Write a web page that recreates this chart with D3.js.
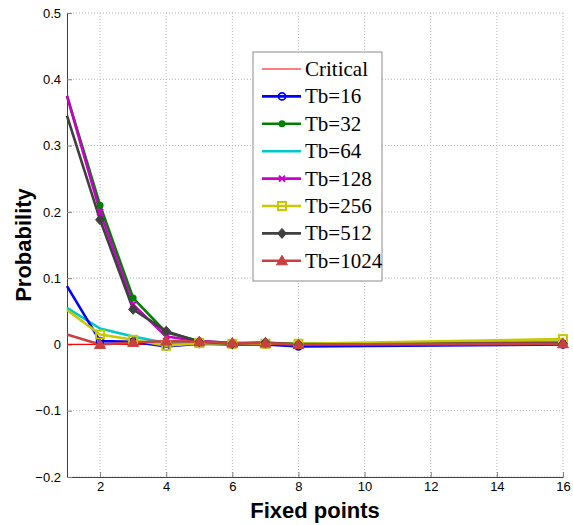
<!DOCTYPE html>
<html>
<head>
<meta charset="utf-8">
<script src="https://cdn.jsdelivr.net/npm/d3@7"></script>
<style>
  body { margin: 0; background: #fff; }
  svg { display: block; }
</style>
</head>
<body>
<svg id="chart"></svg>
<script>
(function () {

    var width = 573;
    var height = 525;
    var plotLeft = 67;
    var plotRight = 563;
    var plotTop = 13;
    var plotBottom = 477;

    // fixed points that were measured
    var fixedPoints = [1, 2, 3, 4, 5, 6, 7, 8, 16];
    var xTicks = [2, 4, 6, 8, 10, 12, 14, 16];
    var yTicks = [-0.2, -0.1, 0, 0.1, 0.2, 0.3, 0.4, 0.5];

    var seriesNames = ["Critical", "Tb=16", "Tb=32", "Tb=64", "Tb=128", "Tb=256", "Tb=512", "Tb=1024"];

    var critical = [0, 0, 0, 0, 0, 0, 0, 0, 0];
    var tb16 = [0.088, 0.005, 0.004, -0.003, 0.001, 0.000, 0.000, -0.003, 0.000];
    var tb32 = [0.375, 0.210, 0.070, 0.018, 0.005, 0.002, 0.002, 0.001, 0.002];
    var tb64 = [0.055, 0.024, 0.012, 0.002, 0.002, 0.001, 0.001, 0.001, 0.004];
    var tb128 = [0.375, 0.200, 0.060, 0.012, 0.005, 0.002, 0.001, 0.000, 0.001];
    var tb256 = [0.052, 0.015, 0.007, -0.002, 0.002, 0.001, 0.001, 0.001, 0.008];
    var tb512 = [0.345, 0.188, 0.053, 0.020, 0.004, 0.001, 0.003, 0.000, 0.001];
    var tb1024 = [0.015, 0.000, 0.003, 0.005, 0.004, 0.002, 0.002, 0.000, 0.001];

    var seriesValues = [critical, tb16, tb32, tb64, tb128, tb256, tb512, tb1024];
    var seriesColors = ["#ff0000", "#0000ff", "#008000", "#00c8c8", "#c800c8", "#c8c800", "#404040", "#c84040"];
    var seriesMarkers = ["none", "circle", "dot", "none", "cross", "square", "diamond", "triangle"];

    var sansFont = "'Liberation Sans', Arial, sans-serif";
    var serifFont = "'Liberation Serif', 'Times New Roman', serif";

    var svg = d3.select("#chart")
        .attr("width", width)
        .attr("height", height);

    var xScale = d3.scaleLinear().domain([1, 16]).range([plotLeft, plotRight]);
    var yScale = d3.scaleLinear().domain([-0.2, 0.5]).range([plotBottom, plotTop]);

    // dotted grid
    var grid = svg.append("g").attr("class", "grid");
    grid.selectAll("line.gx")
        .data(xTicks)
        .enter()
        .append("line")
        .attr("x1", d => xScale(d)).attr("x2", d => xScale(d))
        .attr("y1", plotTop).attr("y2", plotBottom)
        .attr("stroke", "#b4b4b4")
        .attr("stroke-width", 1)
        .attr("stroke-dasharray", "1,2");
    grid.selectAll("line.gy")
        .data(yTicks)
        .enter()
        .append("line")
        .attr("x1", plotLeft).attr("x2", plotRight)
        .attr("y1", d => yScale(d)).attr("y2", d => yScale(d))
        .attr("stroke", "#b4b4b4")
        .attr("stroke-width", 1)
        .attr("stroke-dasharray", "1,2");

    // axes
    var xAxis = d3.axisBottom(xScale).tickValues(xTicks).tickSizeInner(-5).tickSizeOuter(0).tickPadding(5);
    var yAxis = d3.axisLeft(yScale).tickValues(yTicks).tickSizeInner(-5).tickSizeOuter(0).tickPadding(6)
        .tickFormat(d => d === 0 ? "0" : d3.format(".1f")(d));

    var xAxisG = svg.append("g")
        .attr("transform", "translate(0," + plotBottom + ")")
        .call(xAxis);
    var yAxisG = svg.append("g")
        .attr("transform", "translate(" + plotLeft + ",0)")
        .call(yAxis);

    [xAxisG, yAxisG].forEach(function (g) {
        g.select(".domain").attr("stroke", "#404040").attr("stroke-width", 1);
        g.selectAll(".tick line").attr("stroke", "#808080");
        g.selectAll(".tick text")
            .attr("fill", "#000")
            .style("font-family", sansFont)
            .style("font-size", "13px");
    });

    // lines
    var line = d3.line()
        .x((d, i) => xScale(fixedPoints[i]))
        .y(d => yScale(d));

    var order = [0, 3, 1, 2, 4, 5, 6, 7];
    order.forEach(function (s) {
        svg.append("path")
            .attr("d", line(seriesValues[s]))
            .attr("fill", "none")
            .attr("stroke", seriesColors[s])
            .attr("stroke-width", s === 0 ? 1.2 : 2.6)
            .attr("stroke-linejoin", "round");
    });

    function drawMarker(g, kind, color, x, y) {
        if (kind === "circle") {
            g.append("circle").attr("cx", x).attr("cy", y).attr("r", 3.5)
                .attr("fill", "none").attr("stroke", color).attr("stroke-width", 1.8);
        } else if (kind === "dot") {
            g.append("circle").attr("cx", x).attr("cy", y).attr("r", 3.5)
                .attr("fill", color);
        } else if (kind === "cross") {
            g.append("path")
                .attr("d", "M" + (x - 3) + "," + (y - 3) + "L" + (x + 3) + "," + (y + 3)
                    + "M" + (x - 3) + "," + (y + 3) + "L" + (x + 3) + "," + (y - 3))
                .attr("stroke", color).attr("stroke-width", 2);
        } else if (kind === "square") {
            g.append("rect").attr("x", x - 4).attr("y", y - 4).attr("width", 8).attr("height", 8)
                .attr("fill", "none").attr("stroke", color).attr("stroke-width", 2);
        } else if (kind === "diamond") {
            g.append("path")
                .attr("d", "M" + x + "," + (y - 5) + "L" + (x + 4.5) + "," + y + "L" + x + "," + (y + 5)
                    + "L" + (x - 4.5) + "," + y + "Z")
                .attr("fill", color).attr("stroke", color).attr("stroke-width", 1);
        } else if (kind === "triangle") {
            g.append("path")
                .attr("d", "M" + x + "," + (y - 5.5) + "L" + (x + 5.5) + "," + (y + 4)
                    + "L" + (x - 5.5) + "," + (y + 4) + "Z")
                .attr("fill", color).attr("stroke", color).attr("stroke-width", 1);
        }
    }

    var markers = svg.append("g").attr("class", "markers");
    for (var s = 1; s < seriesValues.length; s++) {
        seriesValues[s].forEach(function (v, i) {
            if (fixedPoints[i] === 1) return;
            drawMarker(markers, seriesMarkers[s], seriesColors[s], xScale(fixedPoints[i]), yScale(v));
        });
    }

    // legend
    var legendX = 253;
    var legendY = 52;
    var legendW = 129;
    var legendLine = 27.4;
    var legend = svg.append("g").attr("transform", "translate(" + legendX + "," + legendY + ")");
    legend.append("rect")
        .attr("width", legendW)
        .attr("height", 229)
        .attr("fill", "#fff")
        .attr("stroke", "#8c8c8c")
        .attr("stroke-width", 1);

    seriesNames.forEach(function (name, i) {
        var y = 17 + i * legendLine;
        var entry = legend.append("g");
        entry.append("line")
            .attr("x1", 9).attr("x2", 48)
            .attr("y1", y).attr("y2", y)
            .attr("stroke", seriesColors[i])
            .attr("stroke-width", i === 0 ? 1.2 : 2.6);
        drawMarker(entry, seriesMarkers[i], seriesColors[i], 29, y);
        entry.append("text")
            .attr("x", 52)
            .attr("y", y + 7)
            .attr("font-family", serifFont)
            .attr("font-size", 21)
            .attr("fill", "#000")
            .text(name);
    });

    // axis titles
    svg.append("text")
        .attr("x", (plotLeft + plotRight) / 2)
        .attr("y", 518)
        .attr("text-anchor", "middle")
        .style("font-family", sansFont)
        .style("font-size", "22px")
        .style("font-weight", "bold")
        .text("Fixed points");

    svg.append("text")
        .attr("transform", "translate(31," + ((plotTop + plotBottom) / 2) + ") rotate(-90)")
        .attr("text-anchor", "middle")
        .style("font-family", sansFont)
        .style("font-size", "22px")
        .style("font-weight", "bold")
        .text("Probability");

})();
</script>
</body>
</html>
